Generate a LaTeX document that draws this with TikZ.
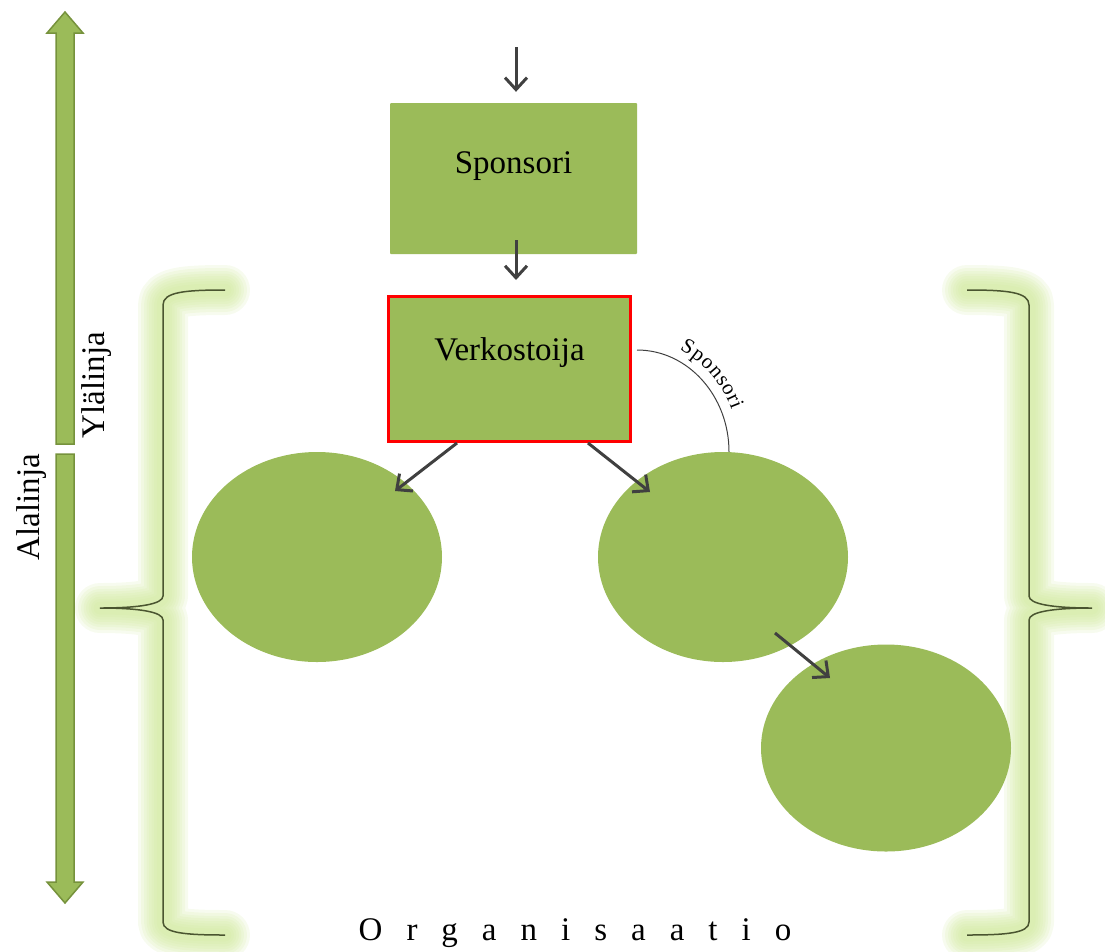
\documentclass[tikz,border=0pt]{standalone}
\usepackage{fontspec}
\setmainfont{Liberation Serif}
\usetikzlibrary{arrows.meta,decorations.text,shapes.geometric,calc}
\definecolor{leaf}{HTML}{9BBB59}
\definecolor{leafdark}{HTML}{76923C}
\definecolor{glow}{HTML}{CFE89A}
\definecolor{ink}{HTML}{404040}
\definecolor{braceink}{HTML}{4A5530}
\newcommand\bigfs{\fontsize{33}{38}\selectfont}
\newcommand\arcfs{\fontsize{21}{24}\selectfont}
\begin{document}
\begin{tikzpicture}[x=1pt,y=-1pt,
  box/.style={fill=leaf, minimum width=247pt, minimum height=151pt, inner sep=0pt, rounded corners=1pt},
  redbox/.style={fill=leaf, draw=red, line width=3pt, minimum width=242pt, minimum height=145pt, inner sep=0pt},
  oval/.style={ellipse, fill=leaf, minimum width=250pt, minimum height=210pt, inner sep=0pt},
  flow/.style={draw=ink, line width=3pt, -{Straight Barb[length=12pt,width=22pt]}},
  bigtext/.style={font=\bigfs, text=black},
  vtext/.style={font=\bigfs, text=black, rotate=90},
  updown/.style={fill=leaf, draw=leafdark, line width=1.5pt, line join=miter},
  gl/.style={preaction={draw=glow, line width=#1, opacity=0.16, line cap=round, line join=round}},
  glowbrace/.style={gl=50pt, gl=44pt, gl=38pt, gl=33pt, gl=28pt, gl=23pt, gl=18pt, gl=13pt,
    draw=braceink, line width=1.5pt},
  arcline/.style={draw=ink, line width=1pt}
]
\useasboundingbox (0,0) rectangle (1105,951);

% braces with glow
\path[glowbrace] (225,290) .. controls (185,290) and (163,292) .. (163,305) -- (163,596)
  .. controls (163,604) and (140,608) .. (100,608)
  .. controls (140,608) and (163,612) .. (163,620) -- (163,922)
  .. controls (163,933) and (185,935) .. (225,935);
\path[glowbrace] (967,290) .. controls (1007,290) and (1029,292) .. (1029,305) -- (1029,596)
  .. controls (1029,604) and (1052,608) .. (1092,608)
  .. controls (1052,608) and (1029,612) .. (1029,620) -- (1029,922)
  .. controls (1029,933) and (1007,935) .. (967,935);

% vertical double arrow (two halves)
\path[updown] (65,12) -- (83,33) -- (74,33) -- (74,444) -- (56,444) -- (56,33) -- (47,33) -- cycle;
\path[updown] (56,454) -- (74,454) -- (74,882) -- (83,882) -- (65,903) -- (47,882) -- (56,882) -- cycle;
\node[vtext] (ala) at (32,507) {Alalinja};
\node[vtext] (yla) at (97,385) {Ylälinja};

% boxes
\node[box, label={[bigtext, yshift=12pt]center:Sponsori}] (spons) at (513.5,178.5) {};
\node[redbox, label={[bigtext, yshift=16pt]center:Verkostoija}] (verk) at (509.5,369) {};

% ellipses
\node[oval] (oL) at (317,557) {};
\node[oval] (oM) at (723,557) {};
\node[oval, minimum height=207pt] (oR) at (886,748) {};

% arrows
\coordinate (in) at (516,47);
\draw[flow, shorten >=11pt] (in) -- (in |- spons.north);
\draw[flow, shorten <=-14pt, shorten >=15pt] (in |- spons.south) -- (in |- verk.north);
\draw[flow] ($(verk.south)+(-52.5,0)$) -- ($(oL.center)+(78,-66)$);
\draw[flow] ($(verk.south)+(78.5,0)$) -- ($(oM.center)+(-73,-65)$);
\draw[flow] ($(oM.center)+(52,76)$) -- ($(oR.center)+(-56,-70)$);

% sponsor arc
\coordinate (a0) at (637,350);
\draw[arcline] (a0) .. controls (688,350) and (729,396) .. ($(oM.north)+(6,0)$);
\path[postaction={decorate}, decoration={text along path, text={|\arcfs|Sponsori}, text align=center, raise=10pt}]
  (a0) .. controls (688,350) and (729,396) .. ($(oM.north)+(6,0)$);

% bottom label
\node[font=\bigfs, text=black, anchor=base] (org) at (575,940) {\spaceskip=24pt plus 0pt O r g a n i s a a t i o};
\end{tikzpicture}
\end{document}
